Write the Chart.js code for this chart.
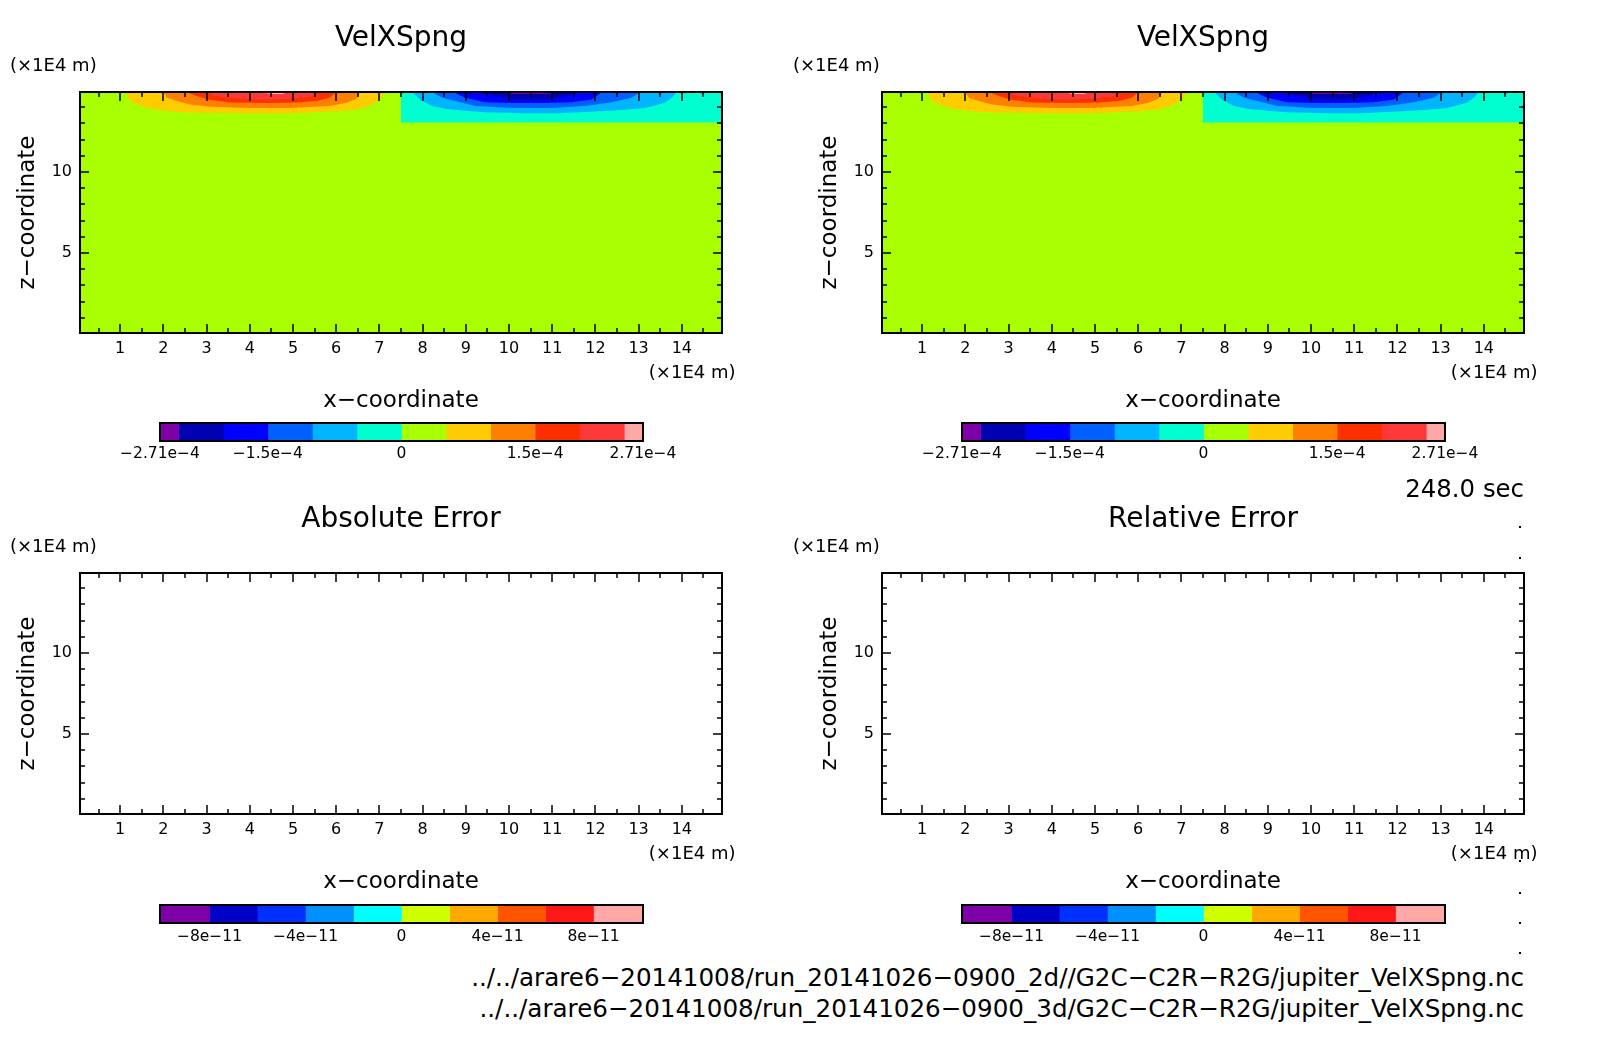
<!DOCTYPE html>
<html>
<head>
<meta charset="utf-8">
<script src="https://cdn.jsdelivr.net/npm/chart.js@4/dist/chart.umd.min.js"></script>
<style>
  html, body { margin: 0; background: #fff; overflow: hidden; }
  canvas { position: absolute; }
  .txt { position: absolute; font-family: "DejaVu Sans"; color: #000; white-space: pre; line-height: 1; }
  .dot { position: absolute; width: 2px; height: 2px; background: #000; }
</style>
</head>
<body>
<script>
// axis ticks
const xMajor = [1, 2, 3, 4, 5, 6, 7, 8, 9, 10, 11, 12, 13, 14]
const xMinor = [0.5, 1.5, 2.5, 3.5, 4.5, 5.5, 6.5, 7.5, 8.5, 9.5, 10.5, 11.5, 12.5, 13.5, 14.5]
const zMajor = [5, 10]
const zMinor = [1, 2, 3, 4, 6, 7, 8, 9, 11, 12, 13, 14]
const axisMin = 0.07
const axisMax = 14.93

// contours of VelXSpng (x, z in 1E4 m)
const blockX = [7.5, 14.93]
const blockZ = [13.05, 13.05]
const baseX = [0.07, 14.93]
const baseZ = [0.07, 0.07]
const pos05X = [1.12, 1.23, 1.39, 1.69, 2.15, 2.62, 4.0, 4.93, 6.01, 6.47, 6.78, 6.98, 7.13]
const pos05Z = [14.93, 14.37, 14.16, 13.91, 13.75, 13.66, 13.62, 13.62, 13.75, 13.85, 14.1, 14.37, 14.93]
const pos10X = [2.0, 2.08, 2.31, 2.62, 3.08, 4.0, 4.93, 5.85, 6.24, 6.47, 6.55]
const pos10Z = [14.93, 14.58, 14.37, 14.16, 14.02, 13.95, 13.95, 14.06, 14.26, 14.51, 14.93]
const pos15X = [2.54, 2.77, 3.08, 3.55, 4.47, 5.09, 5.55, 5.85, 6.0]
const pos15Z = [14.93, 14.68, 14.43, 14.28, 14.25, 14.28, 14.37, 14.58, 14.93]
const pos20X = [3.04, 3.16, 3.55, 4.0, 4.47, 4.93, 5.4, 5.55]
const pos20Z = [14.93, 14.72, 14.58, 14.47, 14.47, 14.51, 14.64, 14.93]
const pos25X = [4.29, 4.47, 4.75, 4.89]
const pos25Z = [14.93, 14.8, 14.8, 14.93]
const neg05X = [7.5, 7.79, 7.95, 8.22, 8.53, 8.98, 9.45, 10.38, 11.14, 11.76, 12.53, 13.15, 13.61, 13.77, 13.89]
const neg05Z = [14.93, 14.85, 14.43, 14.06, 13.89, 13.77, 13.68, 13.62, 13.62, 13.7, 13.8, 13.95, 14.26, 14.58, 14.93]
const neg10X = [8.22, 8.45, 8.76, 9.22, 10.07, 10.99, 11.76, 12.37, 12.84, 13.03]
const neg10Z = [14.93, 14.58, 14.37, 14.06, 13.95, 13.95, 14.06, 14.3, 14.58, 14.93]
const neg15X = [8.71, 8.98, 9.45, 10.07, 10.84, 11.45, 11.92, 12.15]
const neg15Z = [14.93, 14.58, 14.3, 14.25, 14.25, 14.3, 14.47, 14.93]
const neg20X = [9.45, 9.68, 10.15, 10.84, 11.3, 11.53]
const neg20Z = [14.93, 14.68, 14.47, 14.47, 14.64, 14.93]
const neg25X = [9.82, 10.07, 10.92, 11.17]
const neg25Z = [14.93, 14.8, 14.8, 14.93]

// colour bars
const velLevels = [-2.71e-4, -2.5e-4, -2e-4, -1.5e-4, -1e-4, -0.5e-4, 0, 0.5e-4, 1e-4, 1.5e-4, 2e-4, 2.5e-4, 2.71e-4]
const velColors = ["#8000a8", "#0000b0", "#0000ff", "#0060ff", "#00b4ff", "#00ffd0", "#a8ff00", "#ffcc00", "#ff8000", "#ff3000", "#ff3838", "#ffa8a8"]
const velTicks = [-2.71e-4, -1.5e-4, 0, 1.5e-4, 2.71e-4]
const velTickLabels = ["−2.71e−4", "−1.5e−4", "0", "1.5e−4", "2.71e−4"]
const errLevels = [-10.06e-11, -8e-11, -6e-11, -4e-11, -2e-11, 0, 2e-11, 4e-11, 6e-11, 8e-11, 10.06e-11]
const errColors = ["#8000a8", "#0000c8", "#0030ff", "#0090ff", "#00ffff", "#d0ff00", "#ffaa00", "#ff5500", "#ff1818", "#ffa8a8"]
const errTicks = [-8e-11, -4e-11, 0, 4e-11, 8e-11]
const errTickLabels = ["−8e−11", "−4e−11", "0", "4e−11", "8e−11"]

const titles = ["VelXSpng", "VelXSpng", "Absolute Error", "Relative Error"]
const pathLines = [
  "../../arare6−20141008/run_20141026−0900_2d//G2C−C2R−R2G/jupiter_VelXSpng.nc",
  "../../arare6−20141008/run_20141026−0900_3d/G2C−C2R−R2G/jupiter_VelXSpng.nc",
]

const fontName = '"DejaVu Sans"'
Chart.defaults.font.family = fontName
Chart.defaults.color = "#000"
Chart.defaults.animation = false

// Frame and inward ticks like the original plot
const frame = {
  id: "frame",
  afterDraw(chart) {
    const { ctx, chartArea: a } = chart
    ctx.save()
    ctx.strokeStyle = "#000"
    ctx.lineWidth = 2
    ctx.strokeRect(a.left, a.top, a.right - a.left, a.bottom - a.top)
    ctx.restore()
  },
}

const insideTicks = {
  id: "insideTicks",
  afterDraw(chart) {
    const { ctx, chartArea: a, scales } = chart
    const line = (x1, y1, x2, y2) => {
      ctx.beginPath()
      ctx.moveTo(x1, y1)
      ctx.lineTo(x2, y2)
      ctx.stroke()
    }
    const drawX = (values, len) => values.forEach((v) => {
      const px = Math.round(scales.x.getPixelForValue(v))
      line(px, a.bottom, px, a.bottom - len)
      line(px, a.top, px, a.top + len)
    })
    const drawZ = (values, len) => values.forEach((v) => {
      const py = Math.round(scales.y.getPixelForValue(v))
      line(a.left, py, a.left + len, py)
      line(a.right, py, a.right - len, py)
    })
    ctx.save()
    ctx.strokeStyle = "#000"
    ctx.lineWidth = 1.5
    drawX(xMajor, 9)
    drawX(xMinor, 5)
    drawZ(zMajor, 9)
    drawZ(zMinor, 5)
    ctx.restore()
  },
}

function toPoints(xs, zs) {
  return xs.map((x, i) => ({ x: x, y: zs[i] }))
}

function addCanvas(left, top, width, height) {
  const canvas = document.createElement("canvas")
  canvas.width = width
  canvas.height = height
  canvas.style.left = left + "px"
  canvas.style.top = top + "px"
  document.body.appendChild(canvas)
  return canvas
}

function addText(text, left, right, centerY, size) {
  const el = document.createElement("div")
  el.className = "txt"
  el.textContent = text
  el.style.fontSize = size + "px"
  el.style.top = centerY - size / 2 + "px"
  if (left !== null) el.style.left = left + "px"
  if (right !== null) el.style.right = 1604 - right + "px"
  document.body.appendChild(el)
}

function fieldDatasets() {
  const layers = [
    [baseX, baseZ, velColors[6]],
    [blockX, blockZ, velColors[5]],
    [pos05X, pos05Z, velColors[7]],
    [pos10X, pos10Z, velColors[8]],
    [pos15X, pos15Z, velColors[9]],
    [pos20X, pos20Z, velColors[10]],
    [pos25X, pos25Z, velColors[11]],
    [neg05X, neg05Z, velColors[4]],
    [neg10X, neg10Z, velColors[3]],
    [neg15X, neg15Z, velColors[2]],
    [neg20X, neg20Z, velColors[1]],
    [neg25X, neg25Z, velColors[0]],
  ]
  return layers.map((layer, i) => ({
    data: toPoints(layer[0], layer[1]),
    backgroundColor: layer[2],
    fill: "end",
    borderWidth: 0,
    pointRadius: 0,
    tension: 0,
    order: layers.length - i,
  }))
}

function createPanel(plotLeft, plotTop, title, datasets) {
  const canvas = addCanvas(plotLeft - 80, plotTop - 72, 742, 72 + 241 + 85)
  new Chart(canvas, {
    type: "line",
    data: { datasets: datasets },
    plugins: [frame, insideTicks],
    options: {
      responsive: false,
      layout: { padding: { right: 20 }, autoPadding: false },
      plugins: {
        legend: { display: false },
        tooltip: { enabled: false },
        title: {
          display: true,
          text: title,
          fullSize: false,
          color: "#000",
          font: { size: 28, weight: "normal" },
          padding: { top: 2.2, bottom: 36.2 },
        },
      },
      scales: {
        x: {
          type: "linear",
          min: axisMin,
          max: axisMax,
          afterBuildTicks: (scale) => { scale.ticks = xMajor.map((v) => ({ value: v })) },
          afterFit: (scale) => { scale.height = 85 },
          grid: { display: false, drawTicks: false },
          border: { display: false },
          ticks: { autoSkip: false, maxRotation: 0, padding: 6, font: { size: 16 } },
          title: { display: true, text: "x−coordinate", font: { size: 23 }, padding: { top: 0, bottom: 3.2 } },
        },
        y: {
          type: "linear",
          min: axisMin,
          max: axisMax,
          afterBuildTicks: (scale) => { scale.ticks = zMajor.map((v) => ({ value: v })) },
          afterFit: (scale) => { scale.width = 80 },
          grid: { display: false, drawTicks: false },
          border: { display: false },
          ticks: { autoSkip: false, padding: 8, font: { size: 16 } },
          title: { display: true, text: "z−coordinate", font: { size: 23 }, padding: { top: 14.2, bottom: 0 } },
        },
      },
    },
  })
}

function createColorBar(plotLeft, top, levels, colors, tickValues, tickLabels, labelGap) {
  const canvas = addCanvas(plotLeft - 70, top - 1, 483 + 140, 49)
  new Chart(canvas, {
    type: "bar",
    data: {
      labels: [""],
      datasets: colors.map((color, i) => ({
        data: [[levels[i], levels[i + 1]]],
        backgroundColor: color,
        barPercentage: 1,
        categoryPercentage: 1,
        grouped: false,
      })),
    },
    plugins: [frame],
    options: {
      indexAxis: "y",
      responsive: false,
      layout: { padding: { left: 70, right: 70, top: 1 }, autoPadding: false },
      plugins: { legend: { display: false }, tooltip: { enabled: false } },
      scales: {
        x: {
          type: "linear",
          min: levels[0],
          max: levels[levels.length - 1],
          afterBuildTicks: (scale) => { scale.ticks = tickValues.map((v) => ({ value: v })) },
          afterFit: (scale) => { scale.height = 30 },
          grid: { display: false, drawTicks: false },
          border: { display: false },
          ticks: {
            autoSkip: false,
            maxRotation: 0,
            padding: labelGap,
            font: { size: 15.5 },
            callback: (value, index) => tickLabels[index],
          },
        },
        y: { display: false },
      },
    },
  })
}

const panelLefts = [80, 882, 80, 882]
const panelTops = [92, 92, 573, 573]
const unitLefts = [10, 793, 10, 793]

panelLefts.forEach((left, i) => {
  const isField = i < 2
  createPanel(left, panelTops[i], titles[i], isField ? fieldDatasets() : [])
  const barLeft = left + 80
  if (isField) {
    createColorBar(barLeft, panelTops[i] + 331, velLevels, velColors, velTicks, velTickLabels, 4)
  } else {
    createColorBar(barLeft, panelTops[i] + 332, errLevels, errColors, errTicks, errTickLabels, 5)
  }
  addText("(×1E4 m)", unitLefts[i], null, panelTops[i] - 27.5, 18)
  addText("(×1E4 m)", null, left + 655.5, panelTops[i] + 280, 18)
})

addText("248.0 sec", null, 1524, 489, 24.4)
addText(pathLines[0], null, 1524, 978, 24.6)
addText(pathLines[1], null, 1524, 1009, 24.6)

// stray dots at the right edge of the original
const dotTops = [526, 557, 860, 892, 922, 952]
dotTops.forEach((y) => {
  const dot = document.createElement("div")
  dot.className = "dot"
  dot.style.left = "1519px"
  dot.style.top = y + "px"
  document.body.appendChild(dot)
})
</script>
</body>
</html>
